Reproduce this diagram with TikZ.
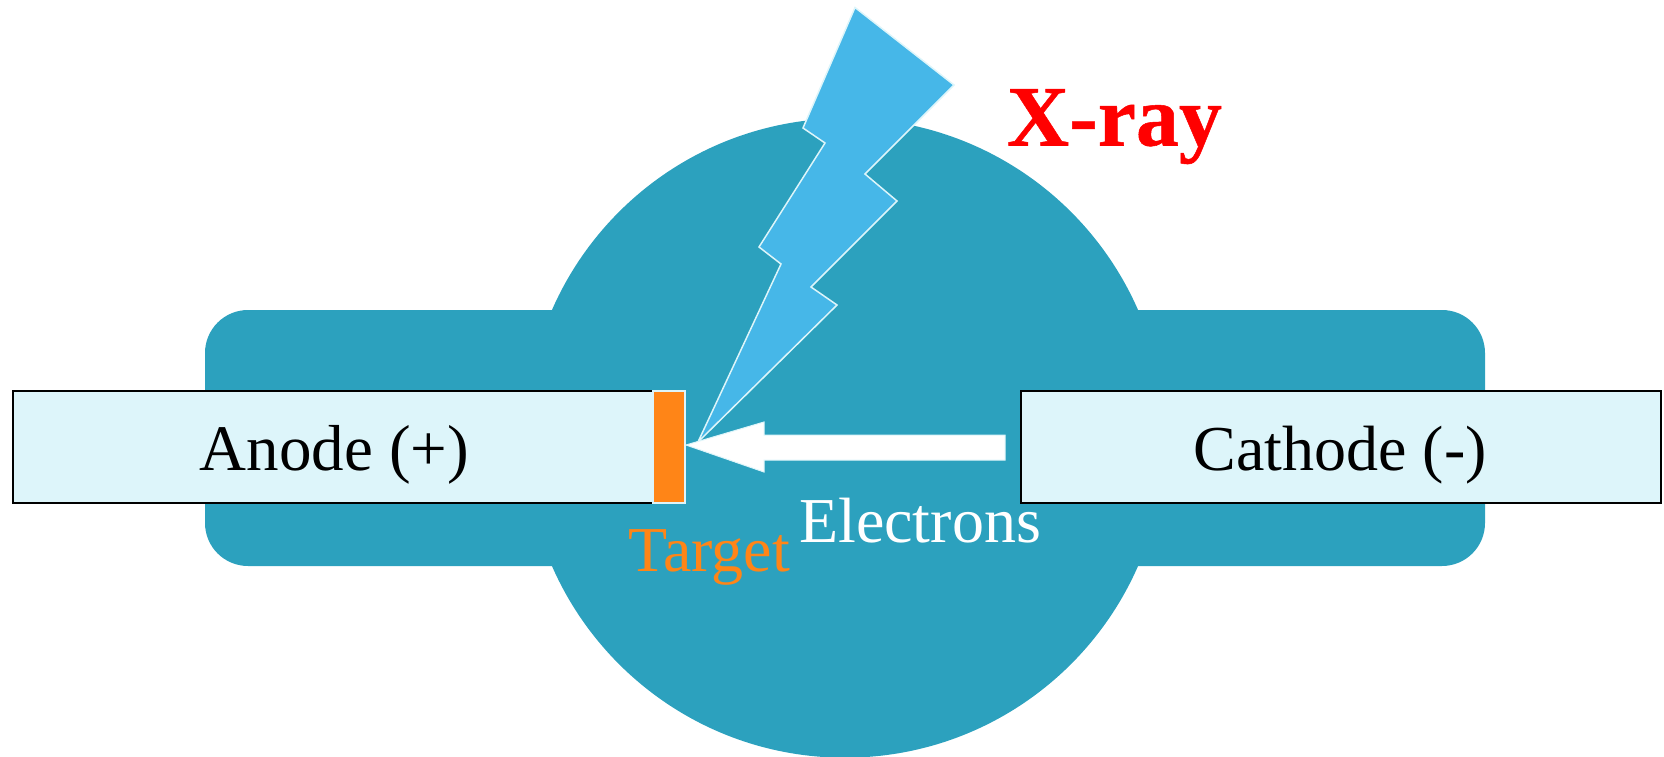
\documentclass[tikz,border=0pt]{standalone}
\usepackage{fontspec}
\setmainfont{Liberation Serif}
\definecolor{teal}{HTML}{2CA1BE}
\definecolor{pale}{HTML}{DDF5FA}
\definecolor{bolt}{HTML}{46B7E8}
\definecolor{targ}{HTML}{FF8517}
\tikzset{
  x=1pt,y=-1pt,
  body/.style={fill=teal,draw=none},
  electrode/.style={fill=pale,draw=black,line width=2.4pt,line join=miter},
  lab/.style={font=\fontsize{64}{64}\selectfont,anchor=base,inner sep=0pt},
  targetbox/.style={fill=targ,draw=pale,line width=2pt},
  boltshape/.style={fill=bolt,draw=pale,line width=1.5pt,line join=miter},
  beam/.style={fill=white,draw=pale,line width=1pt,line join=miter},
}
\begin{document}
\begin{tikzpicture}
\useasboundingbox (0,0) rectangle (1664,757);
\fill[body] (845,438) circle[radius=319.7];
\fill[body,rounded corners=43pt] (205,310) rectangle (1485,566);
\draw[electrode] (13,391) rectangle (653,503);
\draw[electrode] (1021,391) rectangle (1661,503);
\draw[targetbox] (653,391) rectangle (685,503);
\draw[boltshape] (855,7.5) -- (954,85) -- (865,174) -- (897,201) -- (811,287) -- (837,305) -- (698,442) -- (781,264) -- (759,247) -- (825,143) -- (803,128) -- cycle;
\draw[beam] (686,445) -- (764,422) -- (764,435) -- (1005,435) -- (1005,460) -- (764,460) -- (764,472) -- cycle;
\node[lab,font=\fontsize{65}{65}\selectfont] (anode) at (334.5,470) {Anode (+)};
\node[lab] (cathode) at (1340,470) {Cathode (-)};
\node[lab,text=targ] (target) at (709,571) {Target};
\node[lab,text=white] (electrons) at (920,542) {Electrons};
\node[font=\fontsize{86}{86}\selectfont\bfseries\addfontfeature{FakeBold=0.6},anchor=base,inner sep=0pt,text=red] (xray) at (1114.5,145.5) {X-ray};
\end{tikzpicture}
\end{document}
